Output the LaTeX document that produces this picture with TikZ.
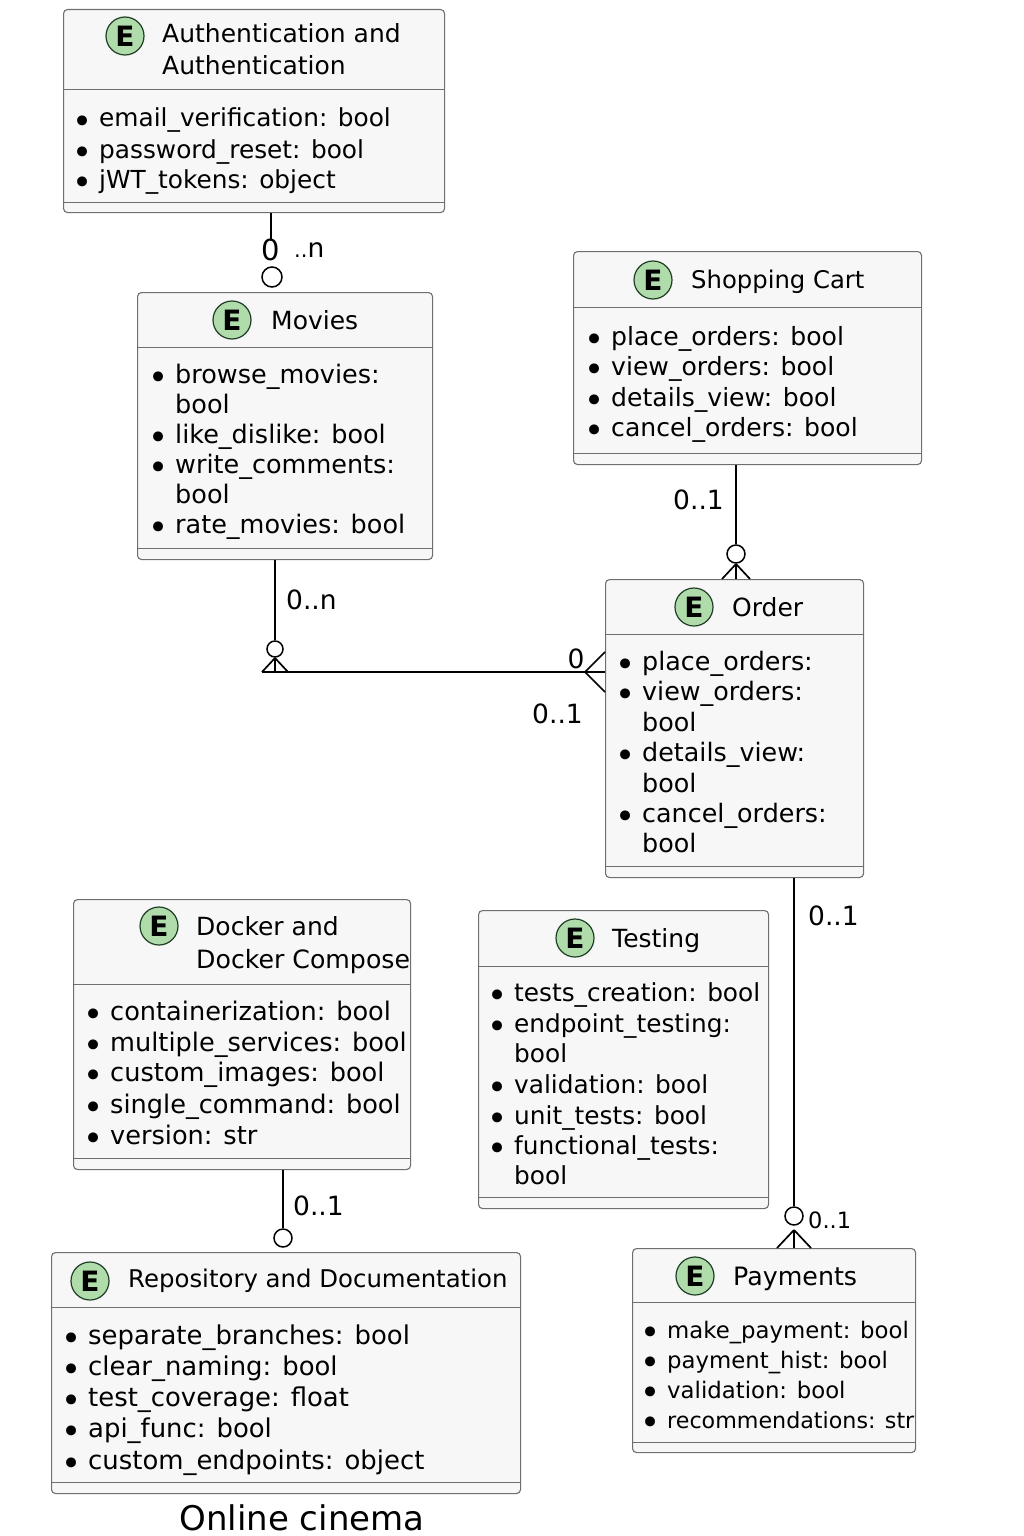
\documentclass[tikz,border=0pt]{standalone}
\usepackage{fontspec}
\setmainfont{DejaVu Sans}
\usepackage{xcolor}
\usetikzlibrary{positioning}

\definecolor{boxfill}{HTML}{F7F7F7}
\definecolor{boxline}{HTML}{6F6F6F}
\definecolor{badgefill}{HTML}{B0DBAA}
\definecolor{badgeline}{HTML}{1F3F25}

\newcommand{\blt}{\llap{\raisebox{-6pt}{\fontsize{34}{34}\selectfont\textbullet}\hspace{7pt}}}

\tikzset{
  entbox/.style={draw=boxline, fill=boxfill, line width=1.1pt, rounded corners=4pt, anchor=north west, inner sep=0pt},
  sepline/.style={draw=boxline, line width=1pt},
  badge/.style={circle, draw=badgeline, fill=badgefill, line width=1.2pt, minimum size=38pt, inner sep=0pt, font=\fontsize{28}{28}\selectfont\bfseries},
  headtext/.style={anchor=base west, inner sep=0pt, font=\fontsize{#1}{30}\selectfont},
  headtext/.default=25,
  attr/.style={anchor=base west, inner sep=0pt, font=\fontsize{#1}{30}\selectfont},
  attr/.default=25,
  card/.style={inner sep=0pt, font=\fontsize{26.5}{30}\selectfont},
  link/.style={line width=1.7pt},
  ring/.style={circle, draw, fill=white, line width=1.5pt, minimum size=18pt, inner sep=0pt}
}

\begin{document}
\begin{tikzpicture}[x=1pt,y=-1pt]
  \useasboundingbox (0,0) rectangle (1024,1536);

  % entities
  \node[entbox, minimum width=381pt, minimum height=203pt] (auth) at (63,9) {};
  \draw[sepline] (auth.west |- 0,90) -- (auth.east |- 0,90);
  \draw[sepline] (auth.west |- 0,202) -- (auth.east |- 0,202);
  \node[badge] (authbadge) at (125,36) {E};
  \node[headtext] (authhead) at (162,43) {Authentication and};
  \node[headtext] (authheadb) at (162,75) {Authentication};
  \foreach \y/\t in {127/email\_verification: bool,158/password\_reset: bool,188/jWT\_tokens: object}
    \node[attr=24.8] (auth\y) at (99,\y) {\blt\t};

  \node[entbox, minimum width=295pt, minimum height=267pt] (movies) at (137,292) {};
  \draw[sepline] (movies.west |- 0,347) -- (movies.east |- 0,347);
  \draw[sepline] (movies.west |- 0,548) -- (movies.east |- 0,548);
  \node[badge] (moviesbadge) at (232,320) {E};
  \node[headtext] (movieshead) at (271,329) {Movies};
  \foreach \y/\t in {383/\blt browse\_movies:,413/bool,443/\blt like\_dislike: bool,473/\blt write\_comments:,503/bool,533/\blt rate\_movies: bool}
    \node[attr=25.5] (movies\y) at (175,\y) {\t};

  \node[entbox, minimum width=348pt, minimum height=213pt] (cart) at (573,251) {};
  \draw[sepline] (cart.west |- 0,307) -- (cart.east |- 0,307);
  \draw[sepline] (cart.west |- 0,453) -- (cart.east |- 0,453);
  \node[badge] (cartbadge) at (653,280) {E};
  \node[headtext=24.3] (carthead) at (691,288) {Shopping Cart};
  \foreach \y/\t in {345/place\_orders: bool,375/view\_orders: bool,406/details\_view: bool,436/cancel\_orders: bool}
    \node[attr=25.1] (cart\y) at (611,\y) {\blt\t};

  \node[entbox, minimum width=258pt, minimum height=298pt] (order) at (605,579) {};
  \draw[sepline] (order.west |- 0,634) -- (order.east |- 0,634);
  \draw[sepline] (order.west |- 0,866) -- (order.east |- 0,866);
  \node[badge] (orderbadge) at (694,607) {E};
  \node[headtext] (orderhead) at (732,616) {Order};
  \foreach \y/\t in {670/\blt place\_orders:,700/\blt view\_orders:,731/bool,761/\blt details\_view:,792/bool,822/\blt cancel\_orders:,852/bool}
    \node[attr=25.4] (order\y) at (642,\y) {\t};

  \node[entbox, minimum width=337pt, minimum height=270pt] (docker) at (73,899) {};
  \draw[sepline] (docker.west |- 0,984) -- (docker.east |- 0,984);
  \draw[sepline] (docker.west |- 0,1158) -- (docker.east |- 0,1158);
  \node[badge] (dockerbadge) at (159,926) {E};
  \node[headtext] (dockerhead) at (196,935) {Docker and};
  \node[headtext=25.2] (dockerheadb) at (196,968) {Docker Compose};
  \foreach \y/\t in {1020/containerization: bool,1051/multiple\_services: bool,1081/custom\_images: bool,1113/single\_command: bool,1144/version: str}
    \node[attr=25.6] (docker\y) at (110,\y) {\blt\t};

  \node[entbox, minimum width=290pt, minimum height=298pt] (testing) at (478,910) {};
  \draw[sepline] (testing.west |- 0,966) -- (testing.east |- 0,966);
  \draw[sepline] (testing.west |- 0,1197) -- (testing.east |- 0,1197);
  \node[badge] (testingbadge) at (575,938) {E};
  \node[headtext] (testinghead) at (612,947) {Testing};
  \foreach \y/\t in {1001/\blt tests\_creation: bool,1032/\blt endpoint\_testing:,1062/bool,1093/\blt validation: bool,1124/\blt unit\_tests: bool,1154/\blt functional\_tests:,1184/bool}
    \node[attr=24.8] (testing\y) at (514,\y) {\t};

  \node[entbox, minimum width=469pt, minimum height=241pt] (repo) at (51,1252) {};
  \draw[sepline] (repo.west |- 0,1307) -- (repo.east |- 0,1307);
  \draw[sepline] (repo.west |- 0,1482) -- (repo.east |- 0,1482);
  \node[badge] (repobadge) at (90,1281) {E};
  \node[headtext=24.4] (repohead) at (128,1287) {Repository and Documentation};
  \foreach \y/\t in {1344/separate\_branches: bool,1375/clear\_naming: bool,1406/test\_coverage: float,1437/api\_func: bool,1469/custom\_endpoints: object}
    \node[attr=25.9] (repo\y) at (88,\y) {\blt\t};

  \node[entbox, minimum width=283pt, minimum height=204pt] (payments) at (632,1248) {};
  \draw[sepline] (payments.west |- 0,1302) -- (payments.east |- 0,1302);
  \draw[sepline] (payments.west |- 0,1442) -- (payments.east |- 0,1442);
  \node[badge] (paymentsbadge) at (695,1276) {E};
  \node[headtext=25.3] (paymentshead) at (733,1285) {Payments};
  \foreach \y/\t in {1338/make\_payment: bool,1368/payment\_hist: bool,1398/validation: bool,1428/\fontsize{22.2}{30}\selectfont recommendations: str}
    \node[attr=22.8] (payments\y) at (667,\y) {\blt\t};

  % relations
  \node[card, font=\fontsize{29}{30}\selectfont] (authzero) at (271,250) {0};
  \node[card, anchor=west] (authmany) at (294,250) {{\fontsize{21}{30}\selectfont..}n};
  \node[ring, minimum size=20pt] (authring) at (272,277) {};
  \draw[link] (auth.south -| authzero) -- (authzero.north);

  \node[card, anchor=east] (cartone) at (724,500) {0..1};
  \node[ring] (cartring) at (736,554) {};
  \coordinate (cartcrow) at (736,564);
  \draw[link] (cart.south -| cartring) -- (cartring);
  \draw[link] (cartcrow) -- (order.north -| cartcrow);
  \draw[link] (cartcrow) -- ++(-14,15);
  \draw[link] (cartcrow) -- ++(14,15);

  \node[card, anchor=west] (moviesmany) at (286,600) {0..n};
  \node[ring, minimum size=16pt] (moviesring) at (275,649) {};
  \coordinate (moviescrow) at (275,658);
  \coordinate (moviesend) at (262,672);
  \coordinate (ordercrow) at (585,672);
  \draw[link] (movies.south -| moviesring) -- (moviesring);
  \draw[link] (moviescrow) -- (moviesend);
  \draw[link] (moviescrow) -- (288,672);
  \draw[link] (moviescrow) -- (275,672);
  \draw[line width=2.2pt] (moviesend) -- (order.west |- moviesend);
  \draw[link] (ordercrow) -- ++(20,-20);
  \draw[link] (ordercrow) -- ++(20,20);
  \node[card] (orderzero) at (576,659) {0};
  \node[card, anchor=east] (orderone) at (583,714) {0..1};

  \node[card, anchor=west] (payone) at (808,916) {0..1};
  \node[ring] (payring) at (794,1216) {};
  \coordinate (paycrow) at (794,1230);
  \draw[link] (order.south -| payring) -- (payring);
  \draw[link] (paycrow) -- (payments.north -| paycrow);
  \draw[link] (paycrow) -- ++(-17,18);
  \draw[link] (paycrow) -- ++(17,18);
  \node[card, anchor=west, font=\fontsize{22.5}{30}\selectfont] (payringone) at (808,1220) {0..1};

  \node[card, anchor=west] (dockerone) at (293,1206) {0..1};
  \node[ring] (dockerring) at (283,1238) {};
  \draw[link] (docker.south -| dockerring) -- (dockerring);

  \node[inner sep=0pt, font=\fontsize{34}{40}\selectfont] (title) at (302,1518) {Online cinema};
\end{tikzpicture}
\end{document}
